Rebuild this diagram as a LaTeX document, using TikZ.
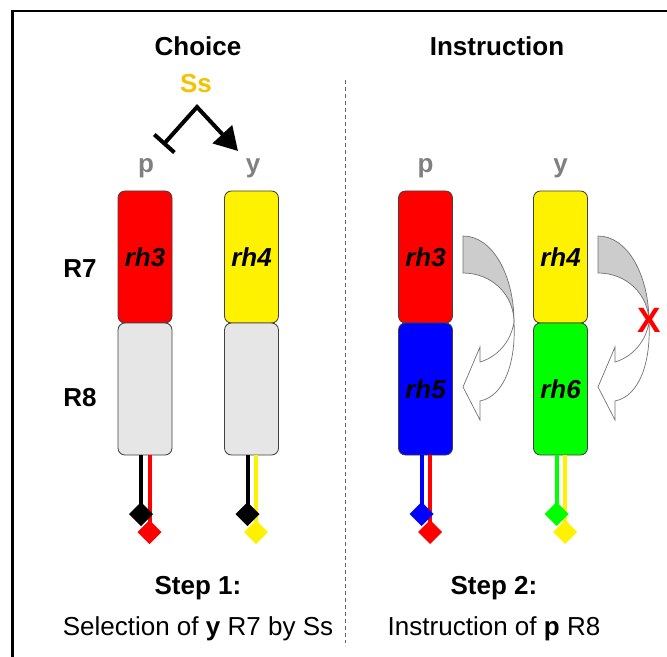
\documentclass[tikz,border=0pt]{standalone}
\usepackage{fontspec}
\setmainfont{Liberation Sans}
\usetikzlibrary{arrows.meta, positioning, shapes.geometric}
\definecolor{ssgold}{HTML}{F5C200}
\definecolor{labelgrey}{HTML}{808080}
\definecolor{restgrey}{HTML}{E6E6E6}
\definecolor{bandgrey}{HTML}{CCCCCC}

\begin{document}
\begin{tikzpicture}[
    x=0.25mm, y=-0.25mm,
    every node/.style={
        inner sep=0pt,
        outer sep=0pt,
        font=\fontsize{18.5}{22}\selectfont},
    head/.style={anchor=base, font=\fontsize{18.5}{22}\selectfont\bfseries},
    plain/.style={anchor=base},
    cell/.style={anchor=base, text=labelgrey, font=\fontsize{18.5}{22}\selectfont\bfseries},
    rbox/.style={
        draw=black!75,
        line width=0.6pt,
        rounded corners=1.75mm,
        minimum width=13.5mm,
        minimum height=33mm,
        font=\fontsize{18.5}{22}\selectfont\bfseries\itshape},
    tail/.style={line width=1mm},
    foot/.style={diamond, minimum width=6mm, minimum height=6mm},
    switch/.style={line width=1mm, miter limit=10,
        {Bar[width=6.75mm]}-{Triangle[length=5.75mm, width=6.5mm]}},
    backband/.style={draw=black!55, line width=0.5pt, fill=bandgrey},
    frontband/.style={draw=black!55, line width=0.5pt, fill=white},
    nogo/.style={text=red, font=\fontsize{25}{25}\selectfont\bfseries},
    divider/.style={draw=black!60, line width=0.6pt, dash pattern=on 1mm off 0.75mm}]
    \useasboundingbox (0,0) rectangle (667,657);
    % frame and divider
    \draw[line width=0.6mm] (12.5,657) -- (12.5,11) -- (667,11);
    \draw[divider] (345,80) -- (345,643);

    % headings
    \node[head] (choice) at (198,56) {Choice};
    \node[head] (instr) at (497,56) {Instruction};
    \node[head, text=ssgold] (ss) at (196,93) {Ss};
    \node[head] (r7) at (80,277) {R7};
    \node[head] (r8) at (80,406) {R8};

    % Ss picks y over p
    \coordinate (fork) at (197,107);
    \coordinate (pstop) at (163,145);
    \coordinate (ygo) at (238,151);
    \draw[switch] (pstop) -- (fork) -- (ygo);

    % step 1: R7/R8 pairs
    \node[cell] (pa) at (146,172) {p};
    \node[cell] (ya) at (253,172) {y};
    \node[rbox, fill=red] (pa7) at (145,257) {rh3};
    \node[rbox, fill=restgrey, below=0pt of pa7] (pa8) {};
    \node[rbox, fill=yellow] (ya7) at (251.5,257) {rh4};
    \node[rbox, fill=restgrey, below=0pt of ya7] (ya8) {};

    % step 2: instruction of R8
    \node[cell] (pb) at (425.5,172) {p};
    \node[cell] (yb) at (560.5,172) {y};
    \node[rbox, fill=red] (pb7) at (425.5,257) {rh3};
    \node[rbox, fill=blue, below=0pt of pb7] (pb8) {rh5};
    \node[rbox, fill=yellow] (yb7) at (560.5,257) {rh4};
    \node[rbox, fill=green, below=0pt of yb7] (yb8) {rh6};

    % axon tails with terminals
    \foreach \c/\dk/\cl/\nm in {145/black/red/pa, 251.5/black/yellow/ya,
                                425.5/blue/red/pb, 560.5/green/yellow/yb} {
        \coordinate (\nm dk) at (\c-4,514);
        \coordinate (\nm cl) at (\c+4.5,532);
        \draw[tail, \cl] (\nm8.south -| \nm cl) -- (\nm cl);
        \draw[tail, \dk] (\nm8.south -| \nm dk) -- (\nm dk);
        \node[foot, fill=\dk] at (\nm dk) {};
        \node[foot, fill=\cl] at (\nm cl) {};
    }

    % curved arrows R7 -> R8
    \foreach \bx in {463,598} {
        \begin{scope}[shift={(\bx,236)}]
            \filldraw[backband] (0,0) .. controls (30,0) and (51,40) .. (51,86)
                .. controls (51,60) and (30,37) .. (0,37) -- cycle;
            \filldraw[frontband] (51,86) .. controls (53,125) and (42,160) .. (17,165)
                -- (17,184) -- (0,151) -- (17,111) -- (17,126)
                .. controls (34,121) and (48,106) .. (51,86) -- cycle;
        \end{scope}
    }
    \node[nogo] (block) at (649,320) {X};

    % captions
    \node[head] (step1) at (198,594) {Step 1:};
    \node[plain] (sel) at (198,635) {Selection of \textbf{y} R7 by Ss};
    \node[head] (step2) at (494,594) {Step 2:};
    \node[plain] (ins) at (494,635) {Instruction of \textbf{p} R8};
\end{tikzpicture}
\end{document}
